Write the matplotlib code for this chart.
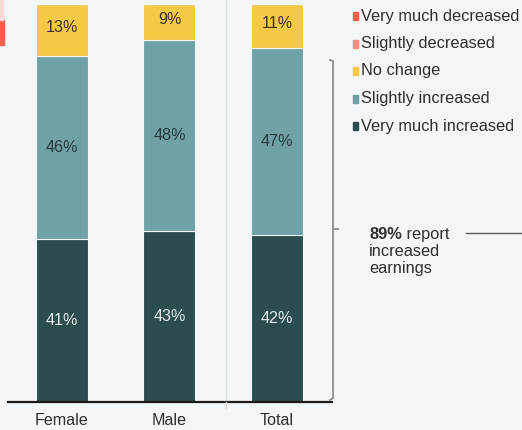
import matplotlib
matplotlib.use("Agg")
import matplotlib.pyplot as plt
from matplotlib.patches import Rectangle
from matplotlib.lines import Line2D

plt.rcParams['font.family'] = ['Liberation Sans', 'DejaVu Sans']

groups = ["Female", "Male", "Total"]
very_much_increased = [41, 43, 42]
slightly_increased = [46, 48, 47]
no_change = [13, 9, 11]
slightly_decreased = [0, 0, 0]
very_much_decreased = [0, 0, 0]

legend_labels = ["Very much decreased", "Slightly decreased", "No change",
                 "Slightly increased", "Very much increased"]
colors = {
    "Very much decreased": "#E8604C",
    "Slightly decreased": "#F28E84",
    "No change": "#F5C945",
    "Slightly increased": "#6FA1A7",
    "Very much increased": "#2B4D4F",
}
bg = "#F3F6F8"
ink = "#2E2E2E"

W, H = 522, 430
fig = plt.figure(figsize=(W / 100, H / 100), dpi=100)
fig.patch.set_facecolor(bg)

def px(x, y):
    return (x / W, 1 - y / H)

ax = fig.add_axes([8 / W, 28 / H, 324 / W, 398 / H])
ax.set_facecolor(bg)

x = list(range(len(groups)))
bw = 0.484
stack = [
    ("Very much increased", very_much_increased, "#E3EBEB"),
    ("Slightly increased", slightly_increased, "#263B3D"),
    ("No change", no_change, "#3A3424"),
    ("Slightly decreased", slightly_decreased, "#333333"),
    ("Very much decreased", very_much_decreased, "#333333"),
]
bottom = [0, 0, 0]
for name, vals, tcol in stack:
    ax.bar(x, vals, bw, bottom=bottom, color=colors[name],
           edgecolor="#F3F6F8", linewidth=0.8, zorder=2)
    for i, v in enumerate(vals):
        if v > 0:
            yc = bottom[i] + v / 2
            if name == "No change":
                yc = bottom[i] + v / 2 + 0.6
            ax.text(x[i], yc, f"{v}%", ha="center", va="center",
                    fontsize=11.6, color=tcol, zorder=3)
    bottom = [b + v for b, v in zip(bottom, vals)]

ax.set_xlim(-0.502, 2.512)
ax.set_ylim(0, 100)
ax.set_yticks([])
ax.set_xticks(x)
ax.set_xticklabels(groups, fontsize=11.6, color=ink)
ax.tick_params(axis="x", length=0, pad=8)
for s in ["top", "right", "left"]:
    ax.spines[s].set_visible(False)
ax.spines["bottom"].set_color("#1A1A1A")
ax.spines["bottom"].set_linewidth(1.6)
ax.spines["bottom"].set_zorder(4)

# divider between groups and total
ax.axvline(1.525, ymin=0, ymax=1.02, color="#D9DEE1", linewidth=1.0, zorder=1,
           clip_on=False)
fig.add_artist(Line2D([226 / W, 226 / W], [1 - 402 / H, 1 - 408 / H],
                      color="#D9DEE1", linewidth=1.0))

# legend
for i, lab in enumerate(legend_labels):
    ly = 16 + i * 27.5
    fig.add_artist(Rectangle(px(353, ly + 4), 5 / W, 8 / H, color=colors[lab]))
    fig.text(*px(361, ly), lab, fontsize=11.8, color=ink,
             ha="left", va="center")

# bracket for increased earnings
bc = "#8A8E90"
fig.add_artist(Line2D([330 / W, 333 / W, 333 / W, 330 / W],
                      [1 - 60 / H, 1 - 61 / H, 1 - 398 / H, 1 - 400 / H],
                      color=bc, linewidth=1.3))
fig.add_artist(Line2D([333 / W, 338 / W], [1 - 229 / H, 1 - 229 / H],
                      color=bc, linewidth=1.3))

fs_note = 11.8
t_bold = fig.text(*px(369, 234), "89%", fontsize=fs_note, fontweight="bold",
                  color=ink, ha="left", va="center")
fig.canvas.draw()
bb = t_bold.get_window_extent(renderer=fig.canvas.get_renderer())
fig.text(bb.x1 / W, 1 - 234 / H, " report", fontsize=fs_note, color=ink,
         ha="left", va="center")
fig.text(*px(369, 251.5), "increased", fontsize=fs_note, color=ink,
         ha="left", va="center")
fig.text(*px(369, 269), "earnings", fontsize=fs_note, color=ink,
         ha="left", va="center")
fig.add_artist(Line2D([466 / W, 522 / W], [1 - 233 / H, 1 - 233 / H],
                      color="#5A5E60", linewidth=1.0))

# edge of neighbouring panel
fig.add_artist(Rectangle((0, 1 - 45 / H), 4 / W, 25 / H, color="#F0604A"))
fig.add_artist(Rectangle((0, 1 - 20 / H), 3 / W, 20 / H, color="#F7D9D4"))

fig.savefig("out.png", dpi=100, facecolor=bg)
